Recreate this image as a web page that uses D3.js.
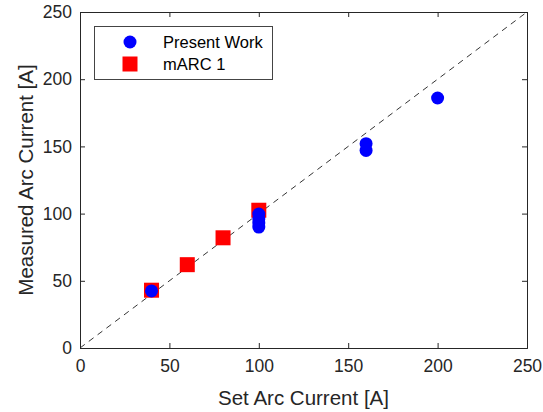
<!DOCTYPE html>
<html><head><meta charset="utf-8">
<script src="https://cdn.jsdelivr.net/npm/d3@7"></script>
<style>body{margin:0;background:#fff}svg{display:block}text{font-family:"Liberation Sans",Arial,sans-serif;fill:#262626}</style>
</head><body>
<svg id="c" width="543" height="412"></svg>
<script>
const ticks = [0, 50, 100, 150, 200, 250];
const presentX = [40, 100, 100, 100, 100, 160, 160, 200];
const presentY = [42.5, 90, 93, 96, 99.7, 147, 152, 186];
const marcX = [40, 60, 80, 100];
const marcY = [43, 62, 82, 102.5];
const refLine = [0, 250];

const svg = d3.select("#c");
const L = 80, R = 527, T = 12, B = 348;
const x = d3.scaleLinear().domain([0, 250]).range([L, R]);
const y = d3.scaleLinear().domain([0, 250]).range([B, T]);
const ink = "#262626";

// dashed reference line
svg.append("line")
  .attr("x1", x(refLine[0])).attr("y1", y(refLine[0]))
  .attr("x2", x(refLine[1])).attr("y2", y(refLine[1]))
  .attr("stroke", "#000").attr("stroke-width", 0.8).attr("stroke-dasharray", "6,5");

// axes (ticks inside)
const ax = d3.axisBottom(x).tickValues(ticks).tickSize(-5).tickPadding(9).tickFormat(d3.format("d"));
const gx = svg.append("g").attr("transform", `translate(0,${B})`).call(ax);
const ay = d3.axisLeft(y).tickValues(ticks).tickSize(-5).tickPadding(8).tickFormat(d3.format("d"));
const gy = svg.append("g").attr("transform", `translate(${L},0)`).call(ay);
const axT = d3.axisTop(x).tickValues(ticks).tickSize(-5).tickFormat("");
const gxt = svg.append("g").attr("transform", `translate(0,${T})`).call(axT);
const ayR = d3.axisRight(y).tickValues(ticks).tickSize(-5).tickFormat("");
const gyr = svg.append("g").attr("transform", `translate(${R},0)`).call(ayR);
[gx, gy, gxt, gyr].forEach(g => {
  g.select(".domain").attr("stroke", ink).attr("stroke-width", 1);
  g.selectAll(".tick line").attr("stroke", ink);
  g.selectAll(".tick text").attr("font-size", 17.5).attr("fill", ink)
    .style("font-family", '"Liberation Sans",Arial,sans-serif');
});
gx.selectAll(".tick text").attr("dy", "0.85em");

// data
svg.append("g").selectAll("rect").data(marcX).join("rect")
  .attr("x", (d, i) => x(d) - 7.5).attr("y", (d, i) => y(marcY[i]) - 7.5)
  .attr("width", 15).attr("height", 15).attr("fill", "#ff0000");
svg.append("g").selectAll("circle").data(presentX).join("circle")
  .attr("cx", d => x(d)).attr("cy", (d, i) => y(presentY[i]))
  .attr("r", 6.5).attr("fill", "#0000ff");

// legend
const lg = svg.append("g");
lg.append("rect").attr("x", 94.5).attr("y", 26.5).attr("width", 178).attr("height", 53)
  .attr("fill", "#fff").attr("stroke", "#444").attr("stroke-width", 1);
lg.append("circle").attr("cx", 130).attr("cy", 42).attr("r", 6.5).attr("fill", "#0000ff");
lg.append("rect").attr("x", 122.5).attr("y", 56.5).attr("width", 15).attr("height", 15).attr("fill", "#ff0000");
lg.append("text").attr("x", 163).attr("y", 47.5).attr("font-size", 16.5).style("fill", "#000").text("Present Work");
lg.append("text").attr("x", 163).attr("y", 70).attr("font-size", 16.5).style("fill", "#000").text("mARC 1");

// axis labels
svg.append("text").attr("x", (L + R) / 2).attr("y", 405).attr("text-anchor", "middle")
  .attr("font-size", 20.5).text("Set Arc Current [A]");
svg.append("text").attr("transform", `translate(33,${(T + B) / 2}) rotate(-90)`).attr("text-anchor", "middle")
  .attr("font-size", 20.5).text("Measured Arc Current [A]");
</script>
</body></html>
